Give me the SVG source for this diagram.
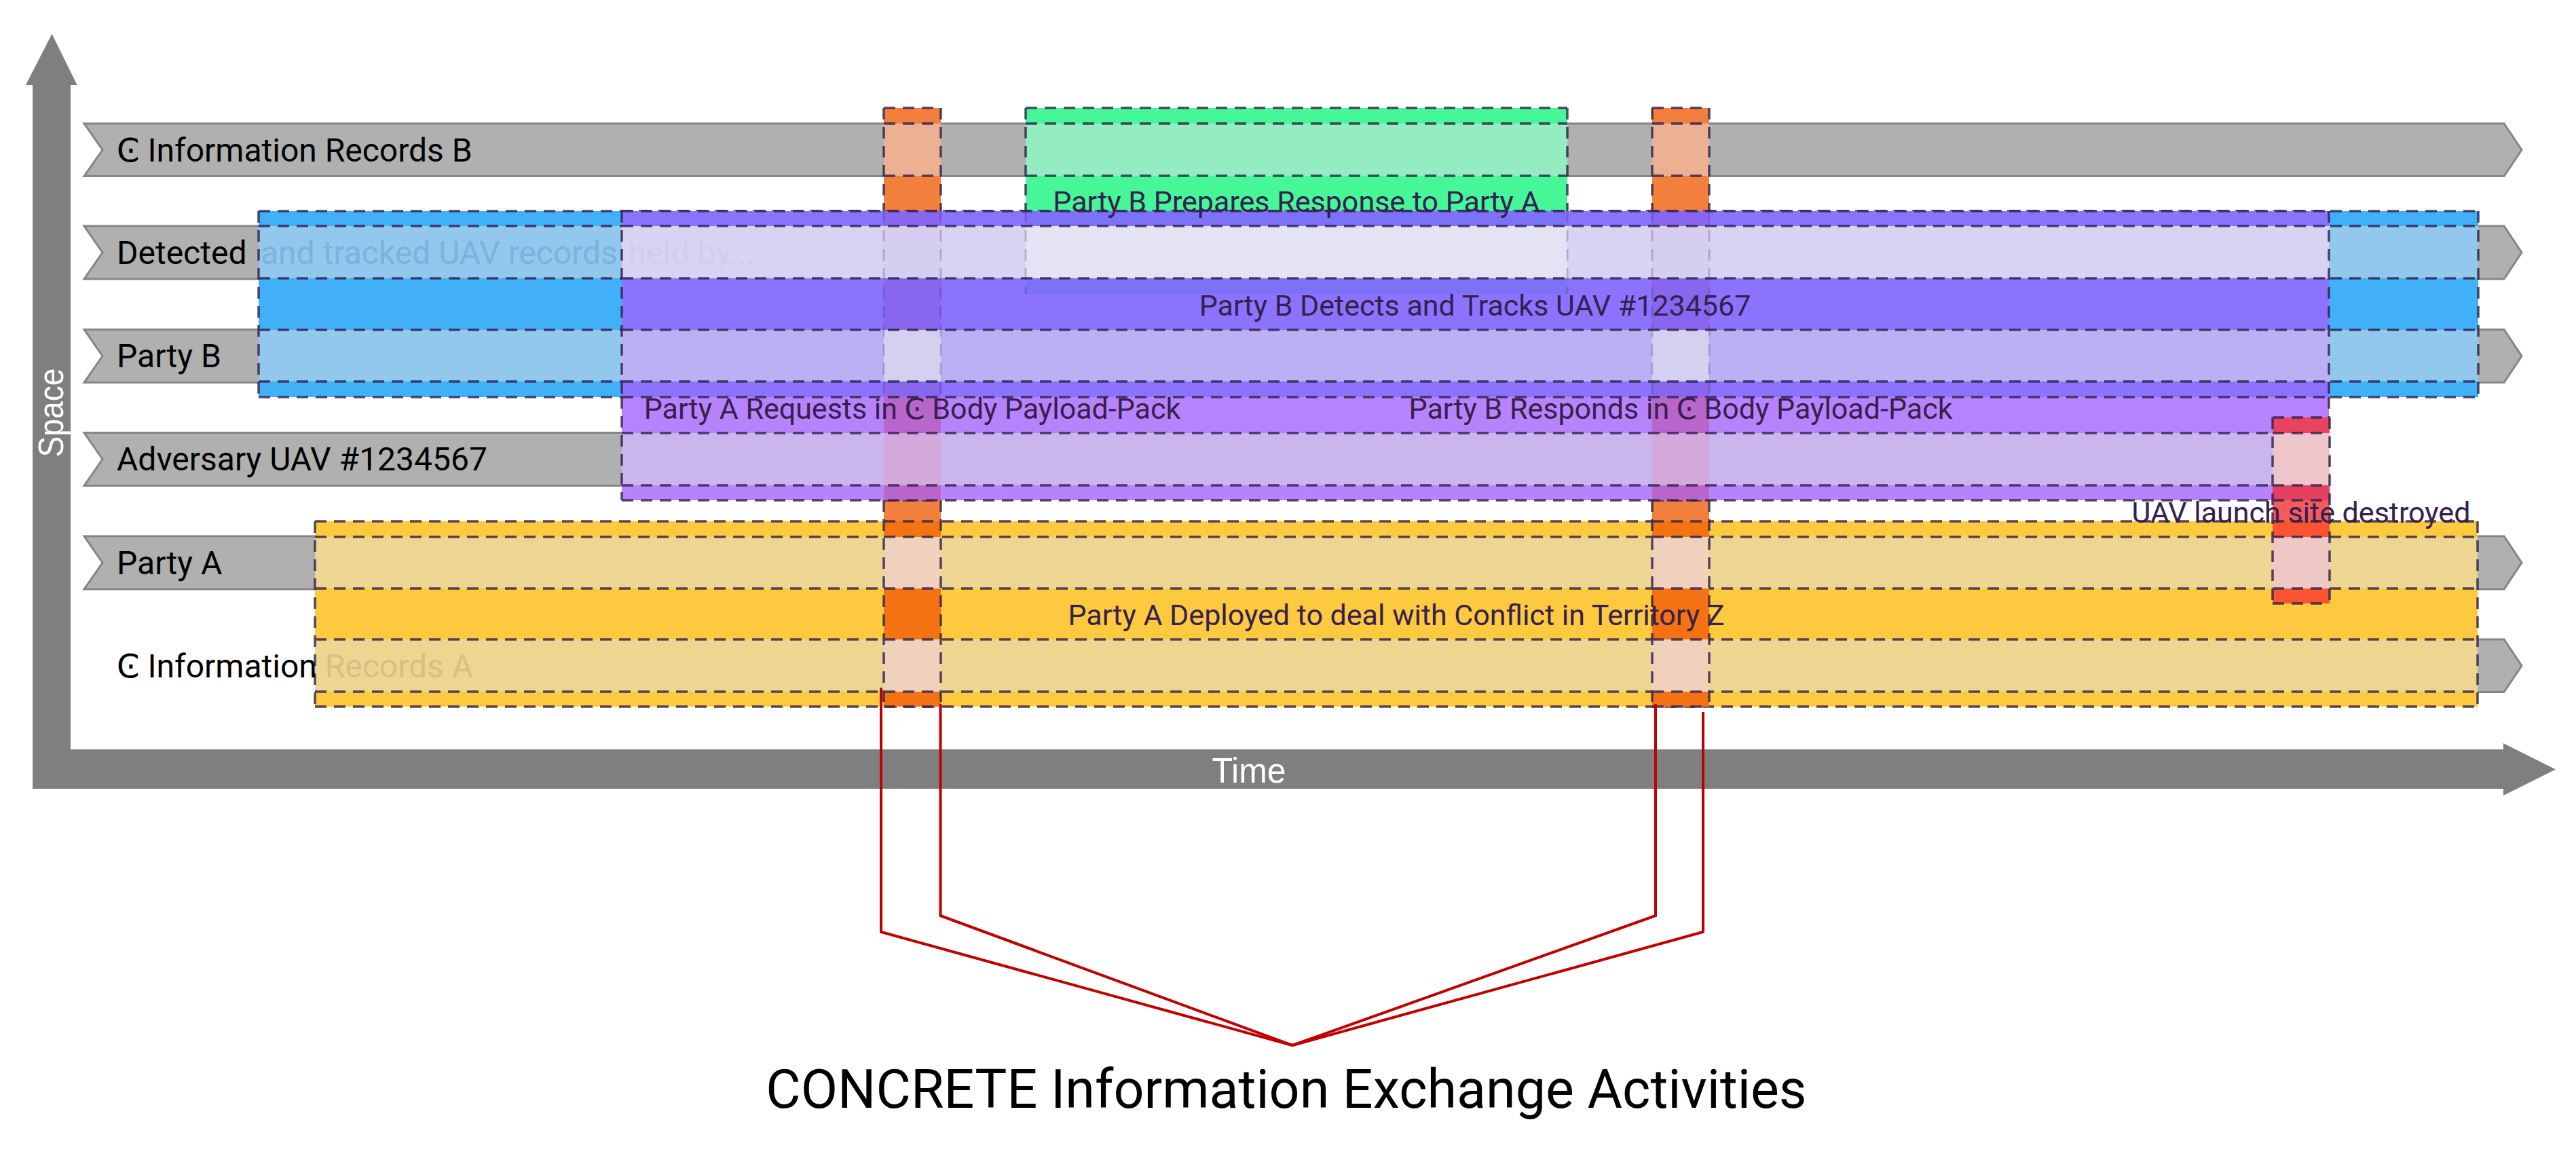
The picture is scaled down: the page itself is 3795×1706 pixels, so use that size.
<svg xmlns="http://www.w3.org/2000/svg" width="3795" height="1706" viewBox="0 0 3795 1706">
<style>
.band{fill:#B0B0B0;stroke:#858585;stroke-width:3}
.lbl{font-family:Roboto,'DejaVu Sans',sans-serif;font-size:48px;fill:#000}
.in{font-family:Roboto,'DejaVu Sans',sans-serif;font-size:43px;fill:#35204F}
.dash{stroke:#2E2148;stroke-opacity:.82;stroke-width:3.5;stroke-dasharray:17 11;fill:none}
.faint{stroke:#2E2148;stroke-opacity:.22;stroke-width:3;stroke-dasharray:17 11;fill:none}
.red{stroke:#C00000;stroke-width:4;fill:none;stroke-linejoin:miter}
.ax{font-family:'Liberation Sans',Arial,sans-serif;font-size:52px;fill:#fff}
</style>
<rect width="3795" height="1706" fill="#fff"/>

<g id="axes">
<path d="M48,125 L38,125 L76.5,50 L113.5,125 L104,125 L104,1104 L3688,1104 L3688,1095 L3765,1133.5 L3688,1172 L3688,1162 L48,1162 Z" fill="#7F7F7F"/>
<text class="ax" transform="translate(93,608) rotate(-90)" text-anchor="middle" textLength="131" lengthAdjust="spacingAndGlyphs">Space</text>
<text class="ax" x="1840" y="1153" text-anchor="middle" textLength="109" lengthAdjust="spacingAndGlyphs">Time</text>
</g>

<g id="band-info-b">
<path class="band" d="M124,182 L3689,182 L3715,220.75 L3689,259.5 L124,259.5 L151,220.75 Z"/>
<text class="lbl" x="172" y="238">Ͼ Information Records B</text>
</g>
<g id="band-detected">
<path class="band" d="M124,333 L3689,333 L3715,372 L3689,411 L124,411 L151,372 Z"/>
</g>
<g id="band-party-b">
<path class="band" d="M124,485.5 L3689,485.5 L3715,524.5 L3689,563.5 L124,563.5 L151,524.5 Z"/>
<text class="lbl" x="172" y="541">Party B</text>
</g>
<g id="band-adversary">
<path class="band" d="M124,637.5 L925,637.5 L925,715.5 L124,715.5 L151,676.5 Z"/>
<text class="lbl" x="172" y="693">Adversary UAV #1234567</text>
</g>
<g id="band-party-a">
<path class="band" d="M124,790 L3689,790 L3715,829 L3689,868 L124,868 L151,829 Z"/>
<text class="lbl" x="172" y="846">Party A</text>
</g>
<g id="band-info-a">
<path class="band" d="M470,942 L3689,942 L3715,980.75 L3689,1019.5 L470,1019.5 Z"/>
</g>

<g id="act-deployed">
<rect x="464" y="768" width="3186" height="273" fill="#FCC93F"/>
<rect x="464" y="791" width="3186" height="76" fill="#EDD592"/>
<rect x="464" y="942" width="3186" height="77" fill="#EDD592"/>
<path class="dash" d="M464,768H3650M464,791H3650M464,867H3650M464,942H3650M464,1019H3650M464,1041H3650M464,768V1041M3650,768V1041"/>
</g>

<g id="exchange-request">
<rect x="1302" y="159" width="84" height="609" fill="#F37F3D"/>
<rect x="1302" y="182" width="84" height="77" fill="#EBB192"/>
<rect x="1302" y="768" width="84" height="273" fill="#F47211"/>
<rect x="1302" y="791" width="84" height="76" fill="#F0D2BC"/>
<rect x="1302" y="942" width="84" height="77" fill="#F0D2BC"/>
<path class="dash" d="M1302,159H1386M1302,182H1386M1302,259H1386M1302,737H1386M1302,768H1386M1302,791H1386M1302,867H1386M1302,942H1386M1302,1019H1386M1302,1041H1386M1302,159V311M1386,159V311M1302,737V1041M1386,737V1041"/>
</g>
<g id="exchange-response">
<rect x="2434" y="159" width="84" height="609" fill="#F37F3D"/>
<rect x="2434" y="182" width="84" height="77" fill="#EBB192"/>
<rect x="2434" y="768" width="84" height="273" fill="#F47211"/>
<rect x="2434" y="791" width="84" height="76" fill="#F0D2BC"/>
<rect x="2434" y="942" width="84" height="77" fill="#F0D2BC"/>
<path class="dash" d="M2434,159H2518M2434,182H2518M2434,259H2518M2434,737H2518M2434,768H2518M2434,791H2518M2434,867H2518M2434,942H2518M2434,1019H2518M2434,1041H2518M2434,159V311M2518,159V311M2434,737V1041M2518,737V1041"/>
</g>

<g id="act-prepares">
<rect x="1511" y="159" width="798" height="152" fill="#45F797"/>
<rect x="1511" y="182" width="798" height="77" fill="#94ECC1"/>
<path class="dash" d="M1511,159H2309M1511,182H2309M1511,259H2309M1511,159V311M2309,159V311"/>
</g>

<g id="act-records-held">
<rect x="381" y="311" width="3270" height="274" fill="#42B0F8"/>
<rect x="381" y="333" width="3270" height="77" fill="#93C8EE"/>
<rect x="381" y="486" width="3270" height="76" fill="#93C8EE"/>
<path class="dash" d="M381,311H3651M381,333H3651M381,410H3651M381,486H3651M381,562H3651M381,585H3651M381,311V585M3651,311V585"/>
</g>

<g id="act-detects">
<rect x="916" y="311" width="2515" height="274" fill="#8B73FF"/>
<rect x="916" y="333" width="2515" height="77" fill="#D8D3F2"/>
<rect x="916" y="486" width="2515" height="76" fill="#BAB0F3"/>
<rect x="1511" y="311" width="798" height="22" fill="#7B72F7"/>
<rect x="1511" y="333" width="798" height="77" fill="#E4E3F3"/>
<rect x="1511" y="410" width="798" height="23" fill="#7B72F7"/>
<rect x="1302" y="311" width="84" height="22" fill="#8866EE"/>
<rect x="1302" y="333" width="84" height="77" fill="#D5CEF0"/>
<rect x="1302" y="410" width="84" height="76" fill="#8866EE"/>
<rect x="1302" y="486" width="84" height="76" fill="#D6D0F0"/>
<rect x="1302" y="562" width="84" height="23" fill="#8866EE"/>
<rect x="2434" y="311" width="84" height="22" fill="#8866EE"/>
<rect x="2434" y="333" width="84" height="77" fill="#D5CEF0"/>
<rect x="2434" y="410" width="84" height="76" fill="#8866EE"/>
<rect x="2434" y="486" width="84" height="76" fill="#D6D0F0"/>
<rect x="2434" y="562" width="84" height="23" fill="#8866EE"/>
<path class="faint" d="M1511,311V433M2309,311V433M1302,311V737M1386,311V737M2434,311V737M2518,311V737"/>
<path class="dash" d="M916,311H3431M916,333H3431M916,410H3431M916,486H3431M916,562H3431M916,311V585M3431,311V585"/>
</g>

<g id="act-payload">
<rect x="916" y="585" width="2515" height="152" fill="#B783FC"/>
<rect x="916" y="638" width="2515" height="77" fill="#CBB5EE"/>
<rect x="1302" y="585" width="84" height="53" fill="#B966CC"/>
<rect x="1302" y="638" width="84" height="77" fill="#D3A9DB"/>
<rect x="1302" y="715" width="84" height="22" fill="#B966CC"/>
<rect x="2434" y="585" width="84" height="53" fill="#B966CC"/>
<rect x="2434" y="638" width="84" height="77" fill="#D3A9DB"/>
<rect x="2434" y="715" width="84" height="22" fill="#B966CC"/>
<path class="dash" d="M916,585H3431M916,638H3431M916,715H3431M916,737H3431M916,585V737M3431,585V737"/>
</g>

<g id="act-destroyed">
<rect x="3348" y="615" width="84" height="23" fill="#E84361"/>
<rect x="3348" y="638" width="84" height="77" fill="#EEC5CB"/>
<rect x="3348" y="715" width="84" height="22" fill="#E5405F"/>
<rect x="3348" y="737" width="84" height="31" fill="#F75A5C"/>
<rect x="3348" y="768" width="84" height="23" fill="#FC5332"/>
<rect x="3348" y="791" width="84" height="76" fill="#EFC8C6"/>
<rect x="3348" y="867" width="84" height="22" fill="#FC5332"/>
<path class="dash" d="M3348,615H3432M3348,638H3432M3348,715H3432M3348,737H3432M3348,768H3432M3348,791H3432M3348,867H3432M3348,889H3432M3348,615V889M3432,615V889"/>
</g>

<g id="covered-labels">
<text class="lbl" x="172" y="389"><tspan>Detected</tspan><tspan x="384" fill="#7DB2DA">and tracked UAV records</tspan><tspan x="925" fill="#D2CDEF">held by...</tspan></text>
<text class="lbl" x="172" y="998">Ͼ Information Records A</text>
<rect x="466" y="944.5" width="300" height="72" fill="#EDD592" fill-opacity="0.9"/>
</g>

<g id="activity-labels">
<text class="in" x="1910" y="312" text-anchor="middle">Party B Prepares Response to Party A</text>
<text class="in" x="2173" y="465" text-anchor="middle">Party B Detects and Tracks UAV #1234567</text>
<text class="in" x="1344" y="617" text-anchor="middle">Party A Requests in Ͼ Body Payload-Pack</text>
<text class="in" x="2476" y="617" text-anchor="middle">Party B Responds in Ͼ Body Payload-Pack</text>
<text class="in" x="3390" y="770" text-anchor="middle">UAV launch site destroyed</text>
<text class="in" x="2057" y="921" text-anchor="middle">Party A Deployed to deal with Conflict in Territory Z</text>
</g>

<g id="connectors">
<path class="red" d="M1298,1013 L1298,1373 L1904,1540"/>
<path class="red" d="M1385.5,1037 L1385.5,1349 L1904,1540"/>
<path class="red" d="M2439,1037 L2439,1349 L1904,1540"/>
<path class="red" d="M2509,1049 L2509,1373 L1904,1540"/>
</g>

<g id="caption">
<text x="1895" y="1632" text-anchor="middle" font-family="Roboto,'DejaVu Sans',sans-serif" font-size="79" fill="#000">CONCRETE Information Exchange Activities</text>
</g>
</svg>
